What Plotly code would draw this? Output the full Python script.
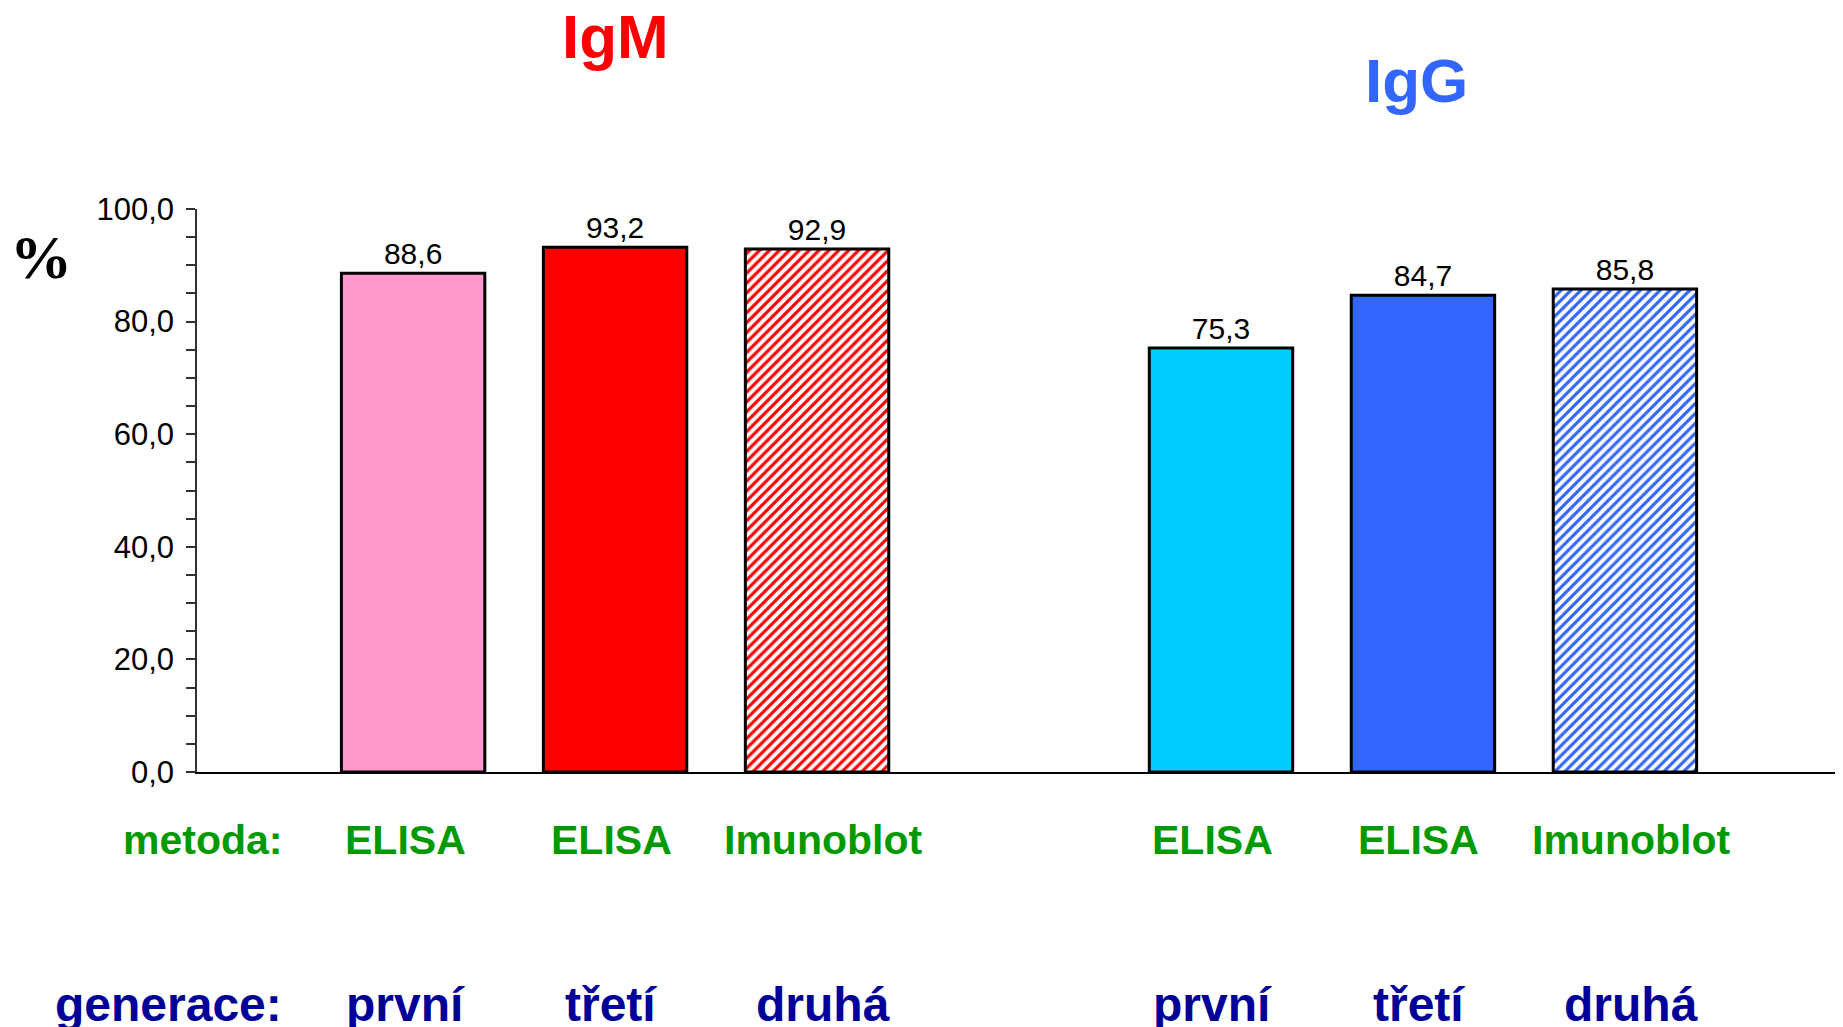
import plotly.graph_objects as go

# hodnoty (%)
antibodies = ["IgM", "IgG"]
methods = ["ELISA", "ELISA", "Imunoblot"]
generations = ["první", "třetí", "druhá"]
igm_values = [88.6, 93.2, 92.9]
igg_values = [75.3, 84.7, 85.8]
y_ticks = [0, 20, 40, 60, 80, 100]

SPACER = " "
igm_cats = [f"IgM {g}" for g in generations]
igg_cats = [f"IgG {g}" for g in generations]
categories = igm_cats + [SPACER] + igg_cats

FONT = "Liberation Sans, Arial, sans-serif"
GREEN = "#009900"
NAVY = "#000099"
LABEL_XSHIFT = [-8, -4, 6]

fig = go.Figure()


def add_group(cats, values, solid_colors, hatch_color):
    for i, (cat, val) in enumerate(zip(cats, values)):
        if i < 2:
            marker = dict(color=solid_colors[i], line=dict(color="black", width=3))
        else:
            marker = dict(
                color="white",
                line=dict(color="black", width=3),
                pattern=dict(shape="/", fgcolor=hatch_color, bgcolor="white",
                             size=7, solidity=0.45, fillmode="replace"),
            )
        fig.add_trace(go.Bar(
            x=[cat], y=[val], marker=marker,
            texttemplate="%{y:.1f}", textposition="outside",
            textfont=dict(size=30, color="black", family=FONT),
            cliponaxis=False, showlegend=False,
        ))


add_group(igm_cats, igm_values, ["#ff99cc", "#ff0000"], "#ff0000")
add_group(igg_cats, igg_values, ["#00ccff", "#3366ff"], "#3366ff")

annotations = []
# nadpisy skupin
annotations.append(dict(x=igm_cats[1], y=1.371, xref="x", yref="paper", text="<b>IgM</b>",
                        showarrow=False, font=dict(size=62, color="#ff0000", family=FONT)))
annotations.append(dict(x=igg_cats[1], y=1.293, xref="x", yref="paper", text="<b>IgG</b>",
                        xshift=-6, showarrow=False, font=dict(size=62, color="#3366ff", family=FONT)))
# popisky řádků
annotations.append(dict(x=0.053, y=-0.166, xref="paper", yref="paper", text="<b>metoda:</b>",
                        xanchor="right", showarrow=False, font=dict(size=41, color=GREEN, family=FONT)))
annotations.append(dict(x=0.053, y=-0.463, xref="paper", yref="paper", text="<b>generace:</b>",
                        xanchor="right", showarrow=False, font=dict(size=48, color=NAVY, family=FONT)))
for cats in (igm_cats, igg_cats):
    for cat, m, g, dx in zip(cats, methods, generations, LABEL_XSHIFT):
        annotations.append(dict(x=cat, y=-0.166, xref="x", yref="paper", text=f"<b>{m}</b>",
                                xshift=dx, showarrow=False,
                                font=dict(size=41, color=GREEN, family=FONT)))
        annotations.append(dict(x=cat, y=-0.463, xref="x", yref="paper", text=f"<b>{g}</b>",
                                xshift=dx, showarrow=False,
                                font=dict(size=48, color=NAVY, family=FONT)))
# jednotka osy
annotations.append(dict(x=-0.115, y=0.978, xref="paper", yref="paper", text="<b>%</b>",
                        showarrow=False, font=dict(size=62, color="black",
                                                   family="Liberation Serif, Times New Roman, serif")))

fig.update_layout(
    width=1843, height=1027,
    # stránka má okraj 8 px, proto je levý a horní okraj o 8 px menší
    margin=dict(l=189, r=14, t=201, b=263),
    paper_bgcolor="white", plot_bgcolor="white",
    separators=", ",
    bargap=0.29,
    annotations=annotations,
    xaxis=dict(type="category", categoryorder="array", categoryarray=categories,
               range=[-1.07, 7.05], showticklabels=False, ticks="",
               showline=True, linecolor="black", linewidth=2, showgrid=False, zeroline=False),
    yaxis=dict(range=[0, 100], tickvals=y_ticks, tickformat=".1f",
               ticks="outside", ticklen=9, tickcolor="#333333", tickwidth=1.5,
               minor=dict(dtick=5, ticks="outside", ticklen=9, tickcolor="#333333", tickwidth=1.5),
               showline=True, linecolor="#333333", linewidth=1.5,
               showgrid=False, zeroline=False, ticklabelstandoff=6,
               tickfont=dict(size=31, color="black", family=FONT)),
)

fig.write_html("out.html")
